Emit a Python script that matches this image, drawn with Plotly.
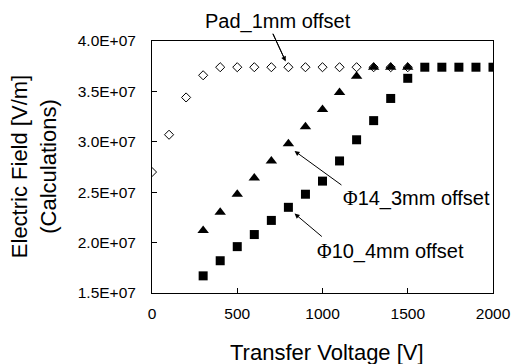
import plotly.graph_objects as go

# Data (Electric field in V/m vs transfer voltage in V)
pad_v = [0, 100, 200, 300, 400, 500, 600, 700, 800, 900, 1000, 1100, 1200, 1300, 1400, 1500]
pad_e = [2.70e7, 3.07e7, 3.44e7, 3.66e7, 3.74e7, 3.74e7, 3.74e7, 3.74e7, 3.74e7, 3.74e7,
         3.74e7, 3.74e7, 3.74e7, 3.74e7, 3.74e7, 3.74e7]

phi14_v = [300, 400, 500, 600, 700, 800, 900, 1000, 1100, 1200, 1300, 1400, 1500]
phi14_e = [2.12e7, 2.30e7, 2.48e7, 2.64e7, 2.81e7, 2.98e7, 3.15e7, 3.32e7, 3.49e7, 3.65e7,
           3.74e7, 3.74e7, 3.74e7]

phi10_v = [300, 400, 500, 600, 700, 800, 900, 1000, 1100, 1200, 1300, 1400, 1500,
           1600, 1700, 1800, 1900, 2000]
phi10_e = [1.67e7, 1.82e7, 1.96e7, 2.08e7, 2.22e7, 2.35e7, 2.48e7, 2.61e7, 2.81e7, 3.02e7,
           3.21e7, 3.43e7, 3.63e7, 3.74e7, 3.74e7, 3.74e7, 3.74e7, 3.74e7]

x_ticks = [0, 500, 1000, 1500, 2000]
y_ticks = [1.5e7, 2.0e7, 2.5e7, 3.0e7, 3.5e7, 4.0e7]
y_ticktext = ["1.5E+07", "2.0E+07", "2.5E+07", "3.0E+07", "3.5E+07", "4.0E+07"]

FONT = "Liberation Sans, Arial, sans-serif"
PHI = '<span style="font-family:Liberation Serif">Φ</span>'

fig = go.Figure()
fig.add_trace(go.Scatter(x=pad_v, y=pad_e, mode="markers", name="Pad_1mm offset",
                         marker=dict(symbol="diamond-open", size=7, color="black",
                                     line=dict(width=1, color="black"))))
fig.add_trace(go.Scatter(x=phi14_v, y=phi14_e, mode="markers", name="Φ14_3mm offset",
                         marker=dict(symbol="triangle-up", size=10, color="black")))
fig.add_trace(go.Scatter(x=phi10_v, y=phi10_e, mode="markers", name="Φ10_4mm offset",
                         marker=dict(symbol="square", size=9, color="black")))

axis_common = dict(showline=True, linecolor="black", linewidth=1, mirror=True,
                   ticks="inside", ticklen=5, tickcolor="black", showgrid=False,
                   zeroline=False, automargin=False,
                   tickfont=dict(family=FONT, size=15.5, color="black"))

fig.update_xaxes(range=[0, 2000], tickvals=x_ticks, ticktext=[str(v) for v in x_ticks],
                 ticklabelstandoff=6, **axis_common)
fig.update_yaxes(range=[1.5e7, 4.0e7], tickvals=y_ticks, ticktext=y_ticktext,
                 ticklabelstandoff=12, **axis_common)

ann_font = dict(family=FONT, size=20, color="black")
arrow_style = dict(text="", showarrow=True, arrowhead=2, arrowsize=1, arrowwidth=1,
                   arrowcolor="black", standoff=0, startstandoff=0, borderpad=0,
                   font=dict(size=1))
annotations = [
    # axis titles
    dict(text="Transfer Voltage [V]", xref="paper", yref="paper", x=0.512, y=-0.235,
         xanchor="center", yanchor="middle", showarrow=False,
         font=dict(family=FONT, size=22, color="black")),
    dict(text="Electric Field [V/m]<br>(Calculations)", xref="paper", yref="paper",
         x=-0.3455, y=0.5, xanchor="center", yanchor="middle", showarrow=False,
         textangle=-90, font=dict(family=FONT, size=22, color="black")),
    # labels
    dict(text="Pad_1mm offset", xref="x", yref="paper", x=740, y=1.079,
         xanchor="center", yanchor="middle", showarrow=False, font=ann_font),
    dict(text=PHI + "14_3mm offset", xref="x", yref="y", x=1110, y=2.44e7,
         xanchor="left", yanchor="middle", showarrow=False, font=ann_font),
    dict(text=PHI + "10_4mm offset", xref="x", yref="y", x=954, y=1.907e7,
         xanchor="left", yanchor="middle", showarrow=False, font=ann_font),
    # arrows
    dict(xref="paper", yref="paper", x=0.392, y=0.919, ax=-13, ay=-28, **arrow_style),
    dict(xref="x", yref="y", axref="x", ayref="y", x=836, y=2.909e7,
         ax=1114, ay=2.568e7, **arrow_style),
    dict(xref="x", yref="y", axref="x", ayref="y", x=836, y=2.288e7,
         ax=999, ay=2.056e7, **arrow_style),
]

# shaft of the Pad arrow drawn as an unclipped paper-referenced line
shapes = [dict(type="line", xref="paper", yref="paper", x0=0.3548, y0=1.029,
               x1=0.390, y1=0.925, line=dict(color="black", width=1))]

fig.update_layout(width=513, height=364, autosize=False,
                  margin=dict(l=152, r=20, t=41, b=71, pad=0),
                  paper_bgcolor="white", plot_bgcolor="white", showlegend=False,
                  font=dict(family=FONT, color="black"), annotations=annotations,
                  shapes=shapes)

fig.write_html("out.html")
